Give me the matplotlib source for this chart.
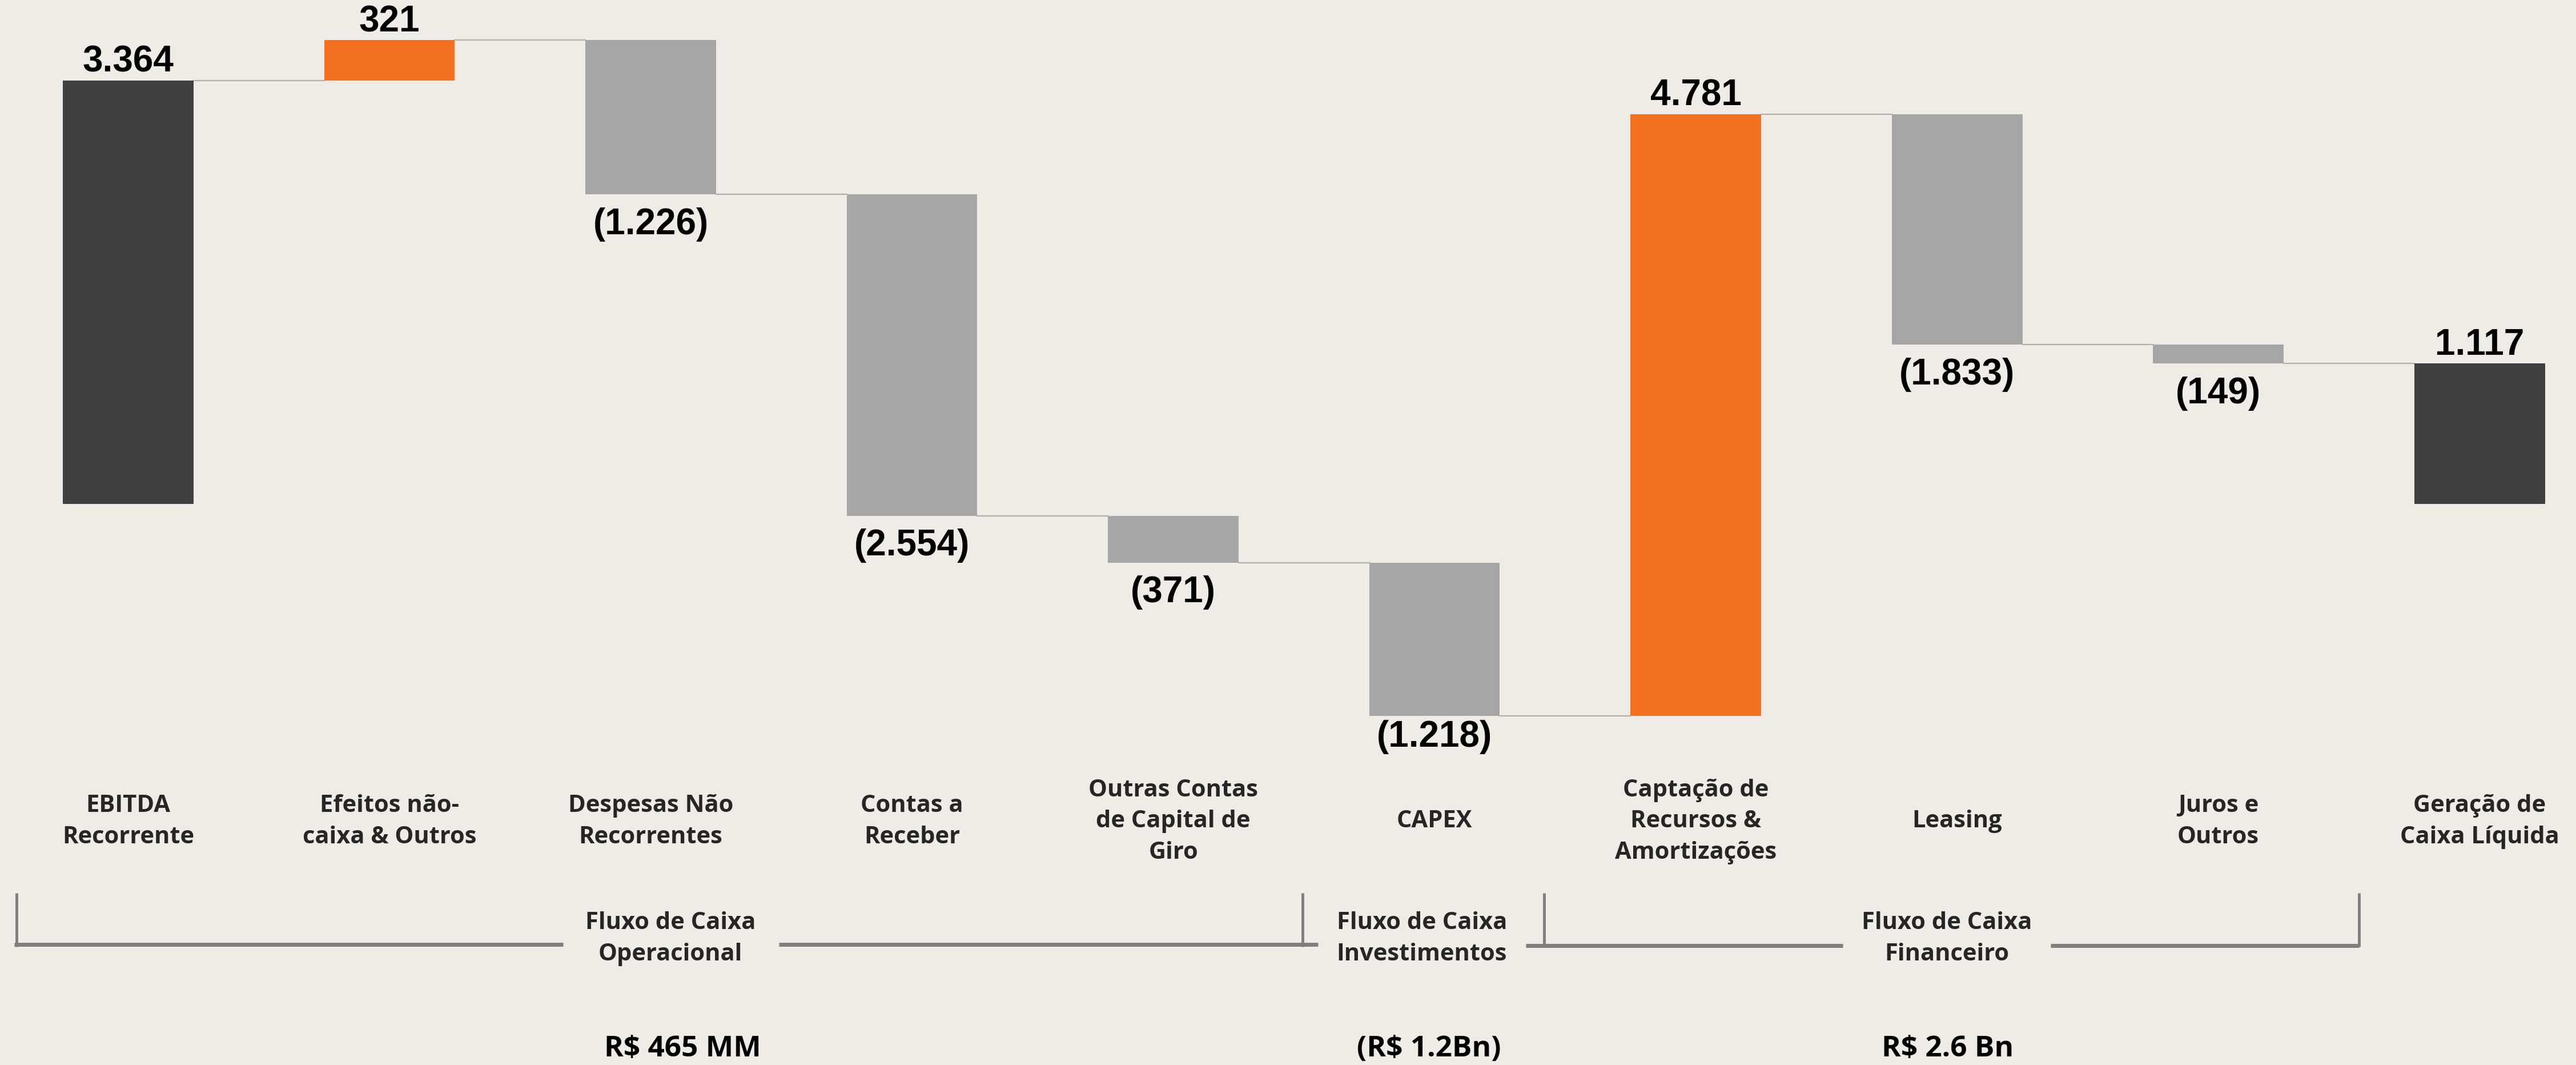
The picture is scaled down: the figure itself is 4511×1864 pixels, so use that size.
import numpy as np
import matplotlib
matplotlib.use('Agg')
from matplotlib import pyplot as plt

# dados do fluxo de caixa (R$ MM)
categories = ['EBITDA\nRecorrente', 'Efeitos não-\ncaixa & Outros', 'Despesas Não\nRecorrentes',
              'Contas a\nReceber', 'Outras Contas\nde Capital de\nGiro', 'CAPEX',
              'Captação de\nRecursos &\nAmortizações', 'Leasing', 'Juros e\nOutros',
              'Geração de\nCaixa Líquida']
values = [3364, 321, -1226, -2554, -371, -1218, 4781, -1833, -149, 1117]
is_total = [True, False, False, False, False, False, False, False, False, True]

groups = ['Fluxo de Caixa\nOperacional', 'Fluxo de Caixa\nInvestimentos', 'Fluxo de Caixa\nFinanceiro']
group_totals = ['R$ 465 MM', '(R$ 1.2Bn)', 'R$ 2.6 Bn']

BG = '#EFEBE7'
DARK = '#404040'
ORANGE = '#F37021'
GRAY = '#A6A6A6'
TXT = '#262626'

W, H = 4511, 1865


def fmt(v):
    s = f'{abs(v):,}'.replace(',', '.')
    return f'({s})' if v < 0 else s


def fx(px):
    return px / W


def fy(py):
    return 1 - py / H


def main():
    fig = plt.figure(figsize=(W / 100, H / 100), dpi=100)
    fig.patch.set_facecolor(BG)
    ax = fig.add_axes([0, 0, 1, 1])
    ax.set_facecolor(BG)
    ax.axis('off')

    x = np.arange(len(values))
    width = 0.5

    bottoms, heights, colors, levels = [], [], [], []
    running = 0
    for v, tot in zip(values, is_total):
        if tot:
            bottoms.append(0)
            heights.append(v)
            colors.append(DARK)
            running = v
        else:
            bottoms.append(running)
            heights.append(v)
            colors.append(ORANGE if v > 0 else GRAY)
            running += v
        levels.append(running)

    ax.bar(x, heights, bottom=bottoms, width=width, color=colors, zorder=2)

    # linhas de conexão
    for i in range(len(values) - 1):
        ax.plot([x[i] + width / 2, x[i + 1] - width / 2], [levels[i], levels[i]],
                color='#B0B0B0', lw=1.6, zorder=1)

    # rótulos de valor
    for i, v in enumerate(values):
        if v > 0:
            top = bottoms[i] + heights[i]
            ax.annotate(fmt(v), (x[i], top), xytext=(0, 11.5), textcoords='offset points',
                        ha='center', va='baseline', fontsize=46, fontweight='bold',
                        family='Liberation Sans', color='black')
        else:
            low = bottoms[i] + heights[i]
            off = -26 if i == 5 else -37
            ax.annotate(fmt(v), (x[i], low), xytext=(0, off), textcoords='offset points',
                        ha='center', va='center', fontsize=46, fontweight='bold',
                        family='Liberation Sans', color='black')

    ax.set_xlim(-0.4907, 9.369)
    ax.set_ylim(-4458, 4008)

    # categorias
    for i, c in enumerate(categories):
        ax.text(x[i], fy(1438), c, transform=ax.get_xaxis_transform(), ha='center', va='center',
                fontsize=30, fontweight='bold', family='Open Sans', color=TXT, linespacing=1.45)

    # chaves dos grupos
    lc = '#7F7F7F'
    ax.plot([fx(25), fx(986)], [fy(1654)] * 2, transform=ax.transAxes, color=lc, lw=5, solid_capstyle='butt')
    ax.plot([fx(1364), fx(2308)], [fy(1654)] * 2, transform=ax.transAxes, color=lc, lw=5, solid_capstyle='butt')
    ax.plot([fx(2672), fx(3227)], [fy(1656)] * 2, transform=ax.transAxes, color=lc, lw=5, solid_capstyle='butt')
    ax.plot([fx(3591), fx(4131)], [fy(1656)] * 2, transform=ax.transAxes, color=lc, lw=5, solid_capstyle='butt')
    for xv in [29, 2281, 2704, 4131]:
        ax.plot([fx(xv), fx(xv)], [fy(1564), fy(1658)], transform=ax.transAxes, color=lc, lw=3.5,
                solid_capstyle='butt')

    gx = [1174, 2490, 3409]
    bx = [1195, 2502, 3411]
    for g, t, a, b in zip(groups, group_totals, gx, bx):
        ax.text(fx(a), fy(1643), g, transform=ax.transAxes, ha='center', va='center', fontsize=30,
                fontweight='bold', family='Open Sans', color=TXT, linespacing=1.45)
        ax.text(fx(b), fy(1836), t, transform=ax.transAxes, ha='center', va='center', fontsize=37,
                fontweight='bold', family='Open Sans', color='black')

    fig.savefig('out.png', dpi=100, facecolor=BG)


if __name__ == '__main__':
    main()
